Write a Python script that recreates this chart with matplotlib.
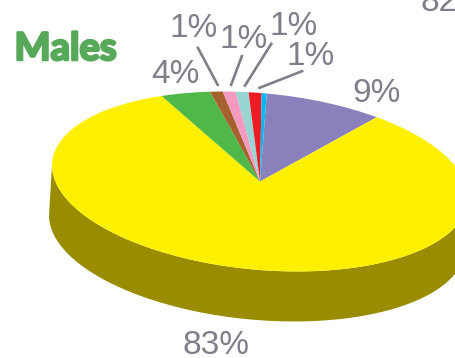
import numpy as np
import matplotlib
matplotlib.use("Agg")
import matplotlib.pyplot as plt
import matplotlib.patheffects as pe
from matplotlib.patches import Wedge, Polygon
from matplotlib.transforms import Affine2D

# Share of males per category, clockwise from the top of the pie
categories = ["purple", "yellow", "green", "brown", "pink", "teal", "red", "blue"]
shares = [9, 83, 4, 1, 1, 1, 1, 0.4]
slice_colors = ["#8A80BC", "#FFF000", "#50B848", "#A6622E",
                "#F49AC1", "#97D5D3", "#ED1C24", "#00B9F2"]
# Slices that carry a printed percentage, and where each label sits
label_slices = ["purple", "yellow", "green", "brown", "pink", "teal", "red"]
label_anchor = [(352, 102), (183, 354.5), (151, 83), (170, 37), (220, 48), (270, 35), (287, 65)]
leaders = [((197.3, 46.7), (218.3, 86)), ((242.3, 55), (230.7, 86)),
           ((272, 42.7), (244.3, 86.7)), ((303.3, 70.7), (258.3, 88.3))]

TEXT_GREY = "#7F7F8C"
WALL = "#998C00"
FONT = "Liberation Sans"

fig = plt.figure(figsize=(4.56, 3.58), dpi=100)
ax = fig.add_axes([0, 0, 1, 1])
ax.set_xlim(0, 456)
ax.set_ylim(358, 0)
ax.axis("off")

# Tilted elliptical disc seen in perspective
cx, cy, a, b, tilt = 260, 181.5, 208.7, 88.2, 5.36
drop = np.array([-3.0, 50.0])
tr = Affine2D().scale(a, b).rotate_deg(tilt).translate(cx, cy)

# Side wall: lower half of the shifted ellipse, joined back at the tangent points
M = tr.get_matrix()[:2, :2]
w = np.linalg.solve(M, drop)
t0 = np.arctan2(-w[0], w[1])
t = np.linspace(t0, t0 + np.pi, 300)
arc = np.column_stack([np.cos(t), np.sin(t)])
if np.mean(arc @ w) < 0:
    arc = -arc
rim = tr.transform(arc)
wall_pts = np.vstack([rim + drop, rim[::-1]])
ax.add_patch(Polygon(wall_pts, closed=True, facecolor=WALL, edgecolor="none", zorder=1))

# Top surface, with angles on the unit circle before projection
angle = -90.4
total = sum(shares)
spans = {}
for name, share, color in zip(categories, shares, slice_colors):
    sweep = 360 * share / total
    ax.add_patch(Wedge((0, 0), 1, angle, angle + sweep, facecolor=color, edgecolor="none",
                       transform=tr + ax.transData, zorder=2))
    spans[name] = share
    angle += sweep

for name, (x, y) in zip(label_slices, label_anchor):
    ax.text(x, y, f"{spans[name]}%", family=FONT, fontsize=24, color=TEXT_GREY,
            ha="left", va="baseline", zorder=4)

for p, q in leaders:
    ax.plot([p[0], q[0]], [p[1], q[1]], color=TEXT_GREY, lw=1.9, solid_capstyle="butt", zorder=3)

# Partial label from the neighbouring panel
ax.text(421, 11, "82", family=FONT, fontsize=24, color=TEXT_GREY, ha="left", va="baseline")

ax.text(14.5, 60, "Males", family="Lato", weight="bold", fontsize=27.5, color="#55A958",
        ha="left", va="baseline",
        path_effects=[pe.withStroke(linewidth=1.8, foreground="#55A958", capstyle="round", joinstyle="round")])

fig.savefig("out.png", dpi=100)
